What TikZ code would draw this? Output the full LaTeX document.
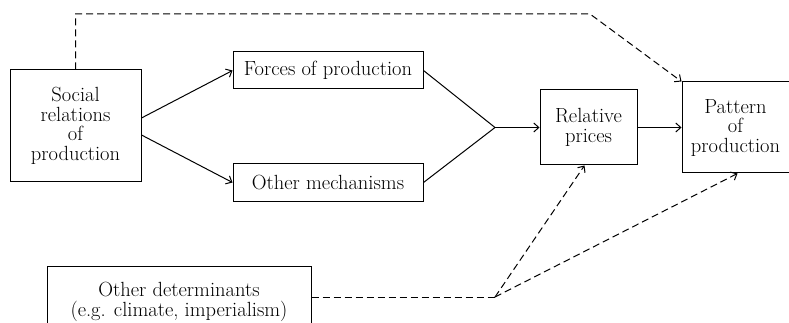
\documentclass[tikz,border=0pt]{standalone}
\usepackage{fontspec}
\usepackage{tikz}
\usetikzlibrary{arrows.meta}

\begin{document}
\begin{tikzpicture}[x=1pt, y=-1pt, line width=1pt, >={Straight Barb[length=5pt,width=9pt]},
        box/.style={draw, align=center, inner sep=2pt, font=\fontsize{20.5}{19.5}\selectfont},
        dashlink/.style={dash pattern=on 7pt off 4pt}
    ]
        \useasboundingbox (0,0) rectangle (789,323);
        % Boxes
        \node[box, minimum width=131pt, minimum height=112pt] (soc) at (75.5,126) {Social\\relations\\of\\production};
        \node[box, minimum width=190pt, minimum height=37pt] (forces) at (328,70.5) {Forces of production};
        \node[box, minimum width=190pt, minimum height=37pt] (othmech) at (328,182.5) {Other mechanisms};
        \node[box, minimum width=97pt, minimum height=75pt] (relprice) at (588.5,127.5) {Relative\\prices};
        \node[box, minimum width=107pt, minimum height=91pt] (pattern) at (735.5,127.5) {Pattern\\of\\production};
        \node[box, minimum width=264pt, minimum height=72pt] (othdet) at (179,302) {Other determinants\\(e.g. climate, imperialism)};
        % Junction points
        \coordinate (join) at (495,127.5);
        \coordinate (split) at (495,297);
        \coordinate (topleft) at (75.5,14);
        \coordinate (topright) at (590,14);
        % Solid links
        \draw[->] ([yshift=8pt]soc.east) -- (forces.west);
        \draw[->] ([yshift=-9pt]soc.east) -- (othmech.west);
        \draw (forces.east) -- (join) -- (othmech.east);
        \draw[->] (join) -- (relprice.west);
        \draw[->] (relprice.east) -- (pattern.west);
        % Dashed links
        \draw[dashlink, ->] (soc.north) -- (topleft) -- (topright) -- (pattern.north west);
        \draw[dashlink] ([yshift=5pt]othdet.east) -- (split);
        \draw[dashlink, ->] (split) -- ([xshift=-4pt]relprice.south);
        \draw[dashlink, ->] (split) -- ([xshift=2pt]pattern.south);
    \end{tikzpicture}
\end{document}
